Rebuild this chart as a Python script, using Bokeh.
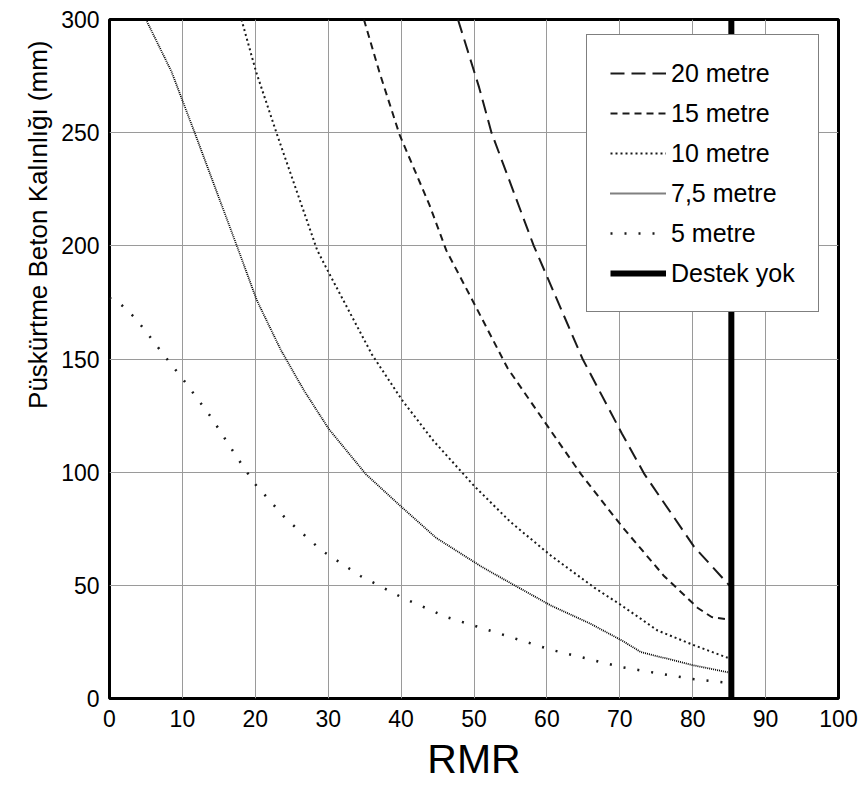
from bokeh.plotting import figure
from bokeh.models import Legend, LegendItem, FixedTicker, Range1d, Title
from bokeh.embed import file_html
from bokeh.resources import INLINE

# ---- data ----
x_20 = [47.8, 50.7, 52.4, 58.2, 64.9, 70.3, 73.4, 80.2, 85.3]
y_20 = [300, 270, 250, 200, 150, 117, 99, 67, 49]

x_15 = [34.9, 37.0, 39.8, 43.9, 46.2, 50.1, 54.6, 60.6, 64.7, 70.3, 76.1, 80.7, 82.6, 84.8]
y_15 = [300, 277, 249, 218, 198, 174, 146, 118, 99, 76, 54, 40, 36, 35]

x_10 = [18.1, 20.1, 23, 28.5, 30.1, 36, 40.1, 44.4, 50, 55, 60.6, 66.5, 70.3, 75.2, 80.2, 84.8]
y_10 = [300, 277, 249, 198, 188, 152, 132, 114, 94, 78, 63, 49, 41, 30, 23.5, 18]

x_75 = [5, 8.5, 11.8, 17.7, 20.2, 23.5, 26.7, 30.1, 35.2, 40.1, 44.8, 51, 55, 60.6, 66, 70.3, 72.9, 80.2, 84.8]
y_75 = [300, 277, 249, 198, 176, 154, 136, 119, 99, 84.5, 71, 58.3, 51, 41, 33, 25.6, 20.5, 14.6, 11.6]

x_5 = [0, 1.6, 3.4, 4.7, 7.4, 10.1, 14, 17.4, 19.9, 24.2, 29.1, 34.5, 40.2, 46.2, 50.4, 60.6, 70.3, 79.8, 84.8]
y_5 = [177, 174, 168.5, 163.4, 152, 141, 124, 107, 95, 79.4, 65.4, 54, 44.5, 36, 31.8, 21.5, 13.8, 8.7, 6.9]

x_none = [85.3, 85.3]
y_none = [0, 300]

x_ticks = [0, 10, 20, 30, 40, 50, 60, 70, 80, 90, 100]
y_ticks = [0, 50, 100, 150, 200, 250, 300]

labels = ["20 metre", "15 metre", "10 metre", "7,5 metre", "5 metre", "Destek yok"]

FONT = "Liberation Sans"

p = figure(width=865, height=788, output_backend="svg", toolbar_location=None,
           x_range=Range1d(0, 100), y_range=Range1d(0, 300),
           min_border_left=109, min_border_right=27, min_border_top=19, min_border_bottom=90)
p.background_fill_color = "white"
p.border_fill_color = "white"
p.outline_line_color = "black"
p.outline_line_width = 3

p.xaxis.ticker = FixedTicker(ticks=x_ticks)
p.yaxis.ticker = FixedTicker(ticks=y_ticks)
for ax in (p.xaxis[0], p.yaxis[0]):
    ax.axis_line_color = None
    ax.major_tick_line_color = None
    ax.minor_tick_line_color = None
    ax.major_tick_out = 0
    ax.major_tick_in = 0
    ax.major_label_text_font = FONT
    ax.major_label_text_font_size = "23px"
    ax.major_label_text_color = "black"
p.xaxis.major_label_standoff = 11
p.yaxis.major_label_standoff = 10
p.xaxis.axis_label = "RMR"
p.xaxis.axis_label_text_font = FONT
p.xaxis.axis_label_text_font_size = "41px"
p.xaxis.axis_label_text_font_style = "normal"
p.xaxis.axis_label_text_color = "black"
p.xaxis.axis_label_standoff = 6

p.xgrid.grid_line_color = "#9a9a9a"
p.ygrid.grid_line_color = "#9a9a9a"
p.xgrid.grid_line_width = 1
p.ygrid.grid_line_width = 1

r20 = p.line(x_20, y_20, line_color="#1a1a1a", line_width=2, line_dash="14 7")
r15 = p.line(x_15, y_15, line_color="#1a1a1a", line_width=2, line_dash="7 5")
r10 = p.line(x_10, y_10, line_color="#1a1a1a", line_width=2, line_dash="2 3")
r75 = p.line(x_75, y_75, line_color="black", line_width=1.8, line_dash="1 1")
r5 = p.line(x_5, y_5, line_color="#1a1a1a", line_width=2.5, line_dash="2 12")
rn = p.line(x_none, y_none, line_color="black", line_width=6)

legend = Legend(items=[LegendItem(label=l, renderers=[r]) for l, r in
                       zip(labels, [r20, r15, r10, r75, r5, rn])],
                location=(477, 386), orientation="vertical")
legend.label_text_font = FONT
legend.label_text_font_size = "25px"
legend.label_text_color = "black"
legend.glyph_width = 56
legend.glyph_height = 20
legend.label_height = 30
legend.label_standoff = 5
legend.spacing = 10
legend.padding = 23
legend.margin = 0
legend.border_line_color = "black"
legend.border_line_width = 1.5
legend.background_fill_color = "white"
legend.background_fill_alpha = 1
p.add_layout(legend, "center")

ytitle = Title(text="Püskürtme Beton Kalınlığı (mm)", align="right", offset=21,
               text_font=FONT, text_font_size="26px",
               text_font_style="normal", text_color="black", standoff=12)
p.add_layout(ytitle, "left")

open("out.html", "w").write(file_html(p, INLINE))
